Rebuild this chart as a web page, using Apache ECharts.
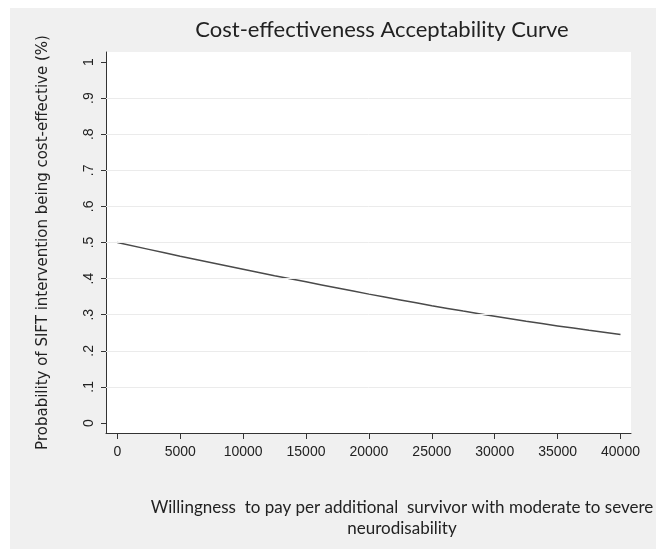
<!DOCTYPE html>
<html><head><meta charset="utf-8">
<script src="https://cdn.jsdelivr.net/npm/echarts@6/dist/echarts.min.js"></script>
<style>html,body{margin:0;padding:0;background:#fff}#c{width:656px;height:549px}</style>
</head><body><div id="c"></div>
<script>
const wtp = [0,2500,5000,7500,10000,12500,15000,17500,20000,22500,25000,27500,30000,32500,35000,37500,40000];
const prob = [0.500,0.481,0.462,0.444,0.426,0.408,0.391,0.374,0.357,0.341,0.325,0.310,0.296,0.282,0.269,0.257,0.245];
const xTicks = [0,5000,10000,15000,20000,25000,30000,35000,40000];
const yTicks = [0,0.1,0.2,0.3,0.4,0.5,0.6,0.7,0.8,0.9,1];
const yGrid = [0.1,0.2,0.3,0.4,0.5,0.6,0.7,0.8,0.9];
const titleText = 'Cost-effectiveness Acceptability Curve';
const xTitle = 'Willingness  to pay per additional  survivor with moderate to severe\nneurodisability';
const yTitle = 'Probability of SIFT intervention being cost-effective (%)';

const chart = echarts.init(document.getElementById('c'), null, {renderer:'canvas'});
const labelFont = {fontFamily:'Liberation Sans', fontSize:14, color:'#222'};
chart.setOption({
  animation:false,
  backgroundColor:'#fff',
  graphic:[{type:'rect', z:-10, shape:{x:10,y:8,width:646,height:541}, style:{fill:'#f0f0f0'}, silent:true}],
  title:[
    {text:titleText, left:377, top:14, textAlign:'center',
     textStyle:{fontFamily:'Lato', fontSize:22, fontWeight:'normal', color:'#222'}},
    {text:xTitle, left:397, top:492, textAlign:'center',
     textStyle:{fontFamily:'Lato', fontSize:17, fontWeight:'normal', color:'#222', lineHeight:21}}
  ],
  grid:{left:106, top:52, right:25, bottom:116, show:true, backgroundColor:'#fff', borderWidth:0, containLabel:false},
  xAxis:{type:'value', min:-900, max:40835,
    axisLine:{show:true, onZero:false, lineStyle:{color:'#333', width:1}},
    axisTick:{show:true, length:6, customValues:xTicks, lineStyle:{color:'#333'}},
    axisLabel:Object.assign({customValues:xTicks, margin:12, showMinLabel:true, showMaxLabel:true,
      formatter:v=>String(v)}, labelFont),
    splitLine:{show:false}},
  yAxis:{type:'value', min:-0.0277, max:1.0277,
    name:yTitle, nameLocation:'middle', nameGap:55,
    nameTextStyle:{fontFamily:'DejaVu Sans', fontSize:15, color:'#222'},
    axisLine:{show:true, onZero:false, lineStyle:{color:'#333', width:1}},
    axisTick:{show:true, length:5, customValues:yTicks, lineStyle:{color:'#333'}},
    axisLabel:Object.assign({customValues:yTicks, rotate:90, margin:10,
      formatter:v=> v===0?'0':(v===1?'1':String(v).replace(/^0/,''))}, labelFont),
    splitLine:{show:false}},
  series:[{type:'line', data:wtp.map((x,i)=>[x,prob[i]]), showSymbol:false, smooth:true,
    lineStyle:{color:'#4a4a4a', width:1.5},
    markLine:{silent:true, symbol:['none','none'], label:{show:false},
      lineStyle:{color:'#ebebeb', type:'solid', width:1},
      data:yGrid.map(v=>({yAxis:v}))}}]
});
</script></body></html>
